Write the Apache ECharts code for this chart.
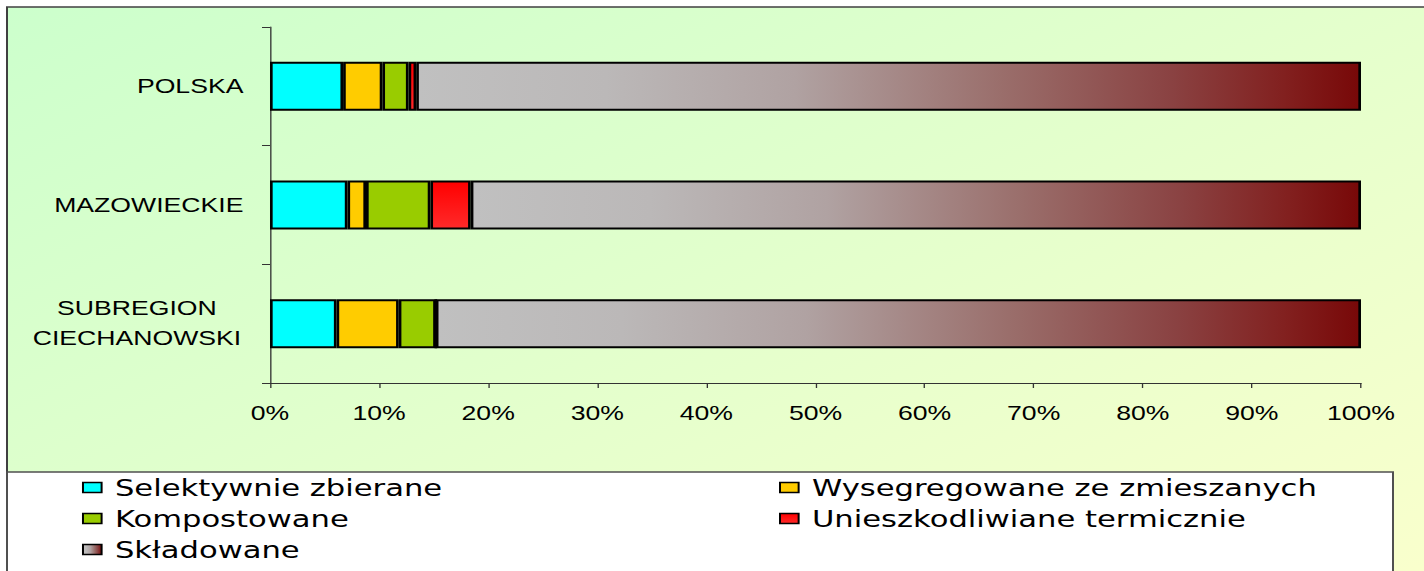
<!DOCTYPE html>
<html><head><meta charset="utf-8">
<script src="https://cdn.jsdelivr.net/npm/echarts@6/dist/echarts.min.js"></script>
<style>
html,body{margin:0;padding:0;background:#fff;overflow:hidden;}
#wrap{width:1424px;height:571px;overflow:hidden;position:relative;}
#chart{width:1070px;height:571px;transform:scaleX(1.330841);transform-origin:0 0;}
</style></head><body><div id="wrap"><div id="chart"></div></div>
<script>
const categories = ['POLSKA', 'MAZOWIECKIE', 'SUBREGION\nCIECHANOWSKI'];
const seriesNames = ['Selektywnie zbierane', 'Wysegregowane ze zmieszanych', 'Kompostowane', 'Unieszkodliwiane termicznie', 'Składowane'];
const selektywnie = [6.7, 7.1, 6.1];
const wysegregowane = [3.6, 1.7, 5.7];
const kompostowane = [2.4, 5.9, 3.4];
const unieszkodliwiane = [0.7, 3.7, 0];
const skladowane = [86.6, 81.6, 84.8];
const xTicks = [0, 10, 20, 30, 40, 50, 60, 70, 80, 90, 100];

const S = 1424 / 1070;
const FONT = 'Liberation Sans, Arial, sans-serif';

const colors = [
  '#00ffff',
  '#ffcc00',
  '#99cc00',
  {type: 'linear', x: 0, y: 0, x2: 0, y2: 1, colorStops: [{offset: 0, color: '#ff0000'}, {offset: 1, color: '#ff2a2a'}]},
  {type: 'linear', x: 0, y: 0, x2: 1, y2: 0, colorStops: [
    {offset: 0, color: '#c0c0c0'}, {offset: 0.2, color: '#bbb8b8'}, {offset: 0.4, color: '#b0a2a2'},
    {offset: 0.62, color: '#9a6e6b'}, {offset: 0.8, color: '#8a4242'}, {offset: 0.92, color: '#82201f'},
    {offset: 1, color: '#780808'}]}
];
const values = [selektywnie, wysegregowane, kompostowane, unieszkodliwiane, skladowane];

const chart = echarts.init(document.getElementById('chart'), null, {renderer: 'svg'});
chart.setOption({
  animation: false,
  graphic: [
    {type: 'rect', z: -20, shape: {x: 7 / S, y: 7, width: 1100, height: 700},
     style: {fill: {type: 'linear', x: 0, y: 0, x2: 1, y2: 1, colorStops: [{offset: 0, color: '#ccffcc'}, {offset: 1, color: '#ffffcc'}]},
             stroke: '#404040', lineWidth: 1.5}},
    {type: 'rect', z: -10, shape: {x: 7 / S, y: 472, width: (1393 - 7) / S, height: 200},
     style: {fill: '#ffffff', stroke: '#505050', lineWidth: 1.5}}
  ],
  grid: {left: 270 / S, right: 1070 - 1361 / S, top: 27, bottom: 571 - 383, containLabel: false},
  xAxis: {
    type: 'value', min: 0, max: 100, interval: 10,
    axisLine: {show: true, lineStyle: {color: '#333', width: 1}},
    axisTick: {show: true, length: 5, lineStyle: {color: '#333'}},
    splitLine: {show: false},
    axisLabel: {margin: 20, fontSize: 20, fontFamily: FONT, color: '#000', formatter: v => xTicks.includes(v) ? v + '%' : ''}
  },
  yAxis: {
    type: 'category', inverse: true, data: categories,
    axisLine: {show: true, lineStyle: {color: '#333', width: 1}},
    axisTick: {show: true, length: 6, lineStyle: {color: '#333'}},
    axisLabel: {
      margin: 20, fontSize: 20, fontFamily: FONT, color: '#000', align: 'right',
      formatter: v => v.indexOf('\n') >= 0 ? v.split('\n').map(s => '{c|' + s + '}').join('\n') : v,
      rich: {c: {width: 160, align: 'center', fontSize: 20, fontFamily: FONT, color: '#000', lineHeight: 30}}
    }
  },
  legend: {
    data: seriesNames, left: 61.6, top: 472, orient: 'horizontal', width: 1060,
    itemGap: 0, padding: 0, itemWidth: 14, itemHeight: 10, icon: 'rect', selectedMode: false,
    itemStyle: {borderColor: '#000', borderWidth: 1.5},
    textStyle: {fontFamily: 'DejaVu Sans', fontSize: 23, color: '#000', width: 499, lineHeight: 31, padding: [0, 0, 0, 5]}
  },
  series: seriesNames.map((name, i) => ({
    name, type: 'bar', stack: 'total', barWidth: 49,
    data: values[i],
    itemStyle: {color: colors[i], borderColor: '#000', borderWidth: 2}
  }))
});
</script></body></html>
